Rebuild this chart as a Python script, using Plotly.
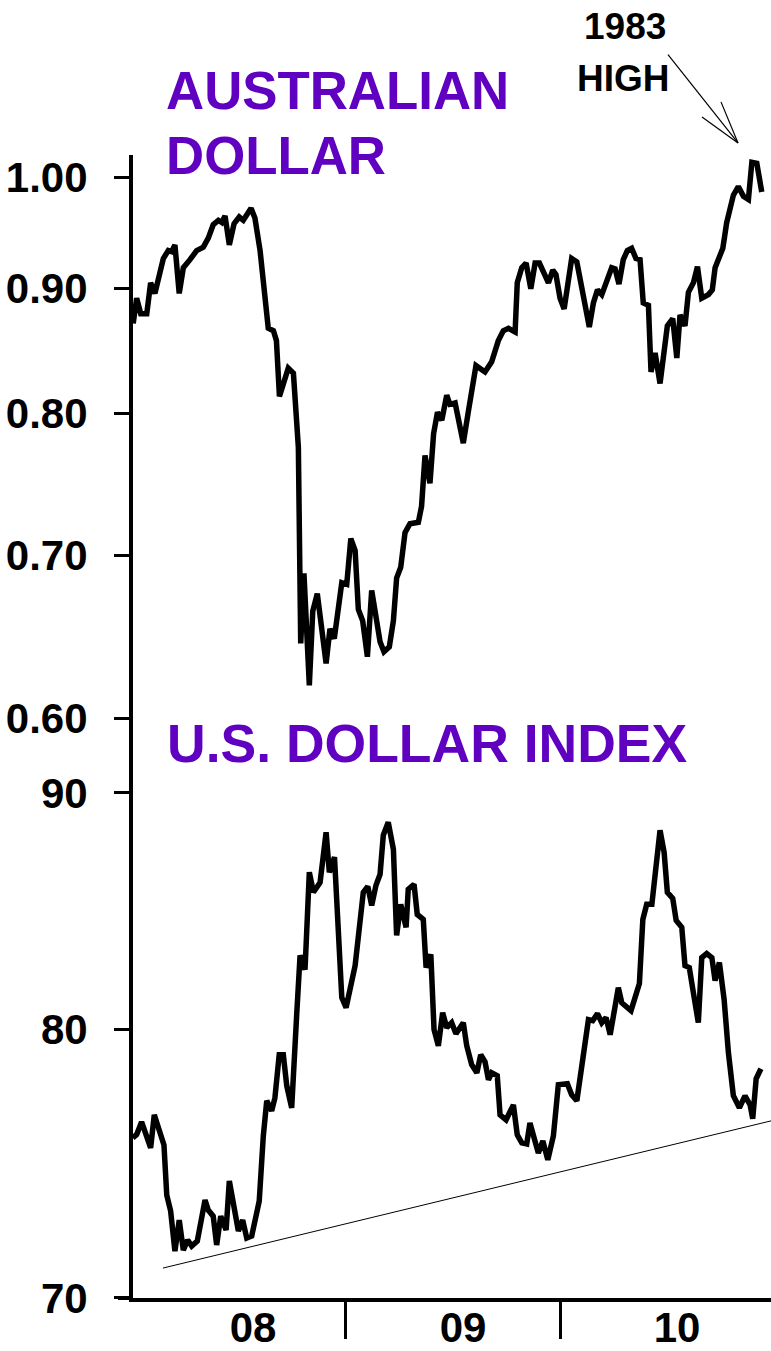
import math
import plotly.graph_objects as go

# Australian dollar (US$ per A$), weekly, Jan 2008 - Nov 2010
aud_t = [2008.015, 2008.031, 2008.050, 2008.078, 2008.096, 2008.116, 2008.155, 2008.178, 2008.194, 2008.209,
         2008.229, 2008.248, 2008.279, 2008.310, 2008.341, 2008.364, 2008.387, 2008.411, 2008.427, 2008.442,
         2008.462, 2008.484, 2008.508, 2008.527, 2008.563, 2008.581, 2008.605, 2008.628, 2008.643, 2008.667,
         2008.681, 2008.695, 2008.736, 2008.760, 2008.783, 2008.794, 2008.809, 2008.834, 2008.850, 2008.871,
         2008.892, 2008.912, 2008.930, 2008.950, 2008.985, 2009.008, 2009.027, 2009.047, 2009.062, 2009.082,
         2009.104, 2009.124, 2009.147, 2009.163, 2009.181, 2009.206, 2009.225, 2009.240, 2009.259, 2009.279,
         2009.302, 2009.341, 2009.356, 2009.372, 2009.395, 2009.412, 2009.430, 2009.450, 2009.473, 2009.488,
         2009.512, 2009.550, 2009.574, 2009.609, 2009.651, 2009.682, 2009.713, 2009.736, 2009.760, 2009.791,
         2009.801, 2009.822, 2009.842, 2009.864, 2009.884, 2009.904, 2009.946, 2009.966, 2009.981, 2010.000,
         2010.019, 2010.054, 2010.078, 2010.136, 2010.155, 2010.174, 2010.194, 2010.220, 2010.240, 2010.256,
         2010.274, 2010.294, 2010.313, 2010.333, 2010.353, 2010.372, 2010.387, 2010.411, 2010.423, 2010.442,
         2010.465, 2010.499, 2010.524, 2010.543, 2010.558, 2010.581, 2010.597, 2010.620, 2010.639, 2010.659,
         2010.690, 2010.708, 2010.721, 2010.757, 2010.775, 2010.806, 2010.829, 2010.853, 2010.876, 2010.892,
         2010.915, 2010.938]
aud_v = [0.871, 0.892, 0.879, 0.879, 0.905, 0.896, 0.926, 0.933, 0.932, 0.938,
         0.896, 0.918, 0.925, 0.933, 0.936, 0.944, 0.956, 0.960, 0.958, 0.964,
         0.938, 0.957, 0.963, 0.960, 0.971, 0.962, 0.933, 0.893, 0.867, 0.865,
         0.857, 0.813, 0.835, 0.831, 0.775, 0.644, 0.688, 0.619, 0.664, 0.675,
         0.650, 0.632, 0.653, 0.647, 0.682, 0.681, 0.711, 0.703, 0.665, 0.658,
         0.636, 0.677, 0.658, 0.645, 0.639, 0.642, 0.658, 0.685, 0.692, 0.715,
         0.721, 0.722, 0.733, 0.769, 0.749, 0.785, 0.801, 0.795, 0.814, 0.807,
         0.808, 0.778, 0.802, 0.837, 0.832, 0.840, 0.857, 0.865, 0.867, 0.864,
         0.905, 0.918, 0.922, 0.900, 0.922, 0.922, 0.905, 0.916, 0.912, 0.892,
         0.883, 0.926, 0.923, 0.868, 0.888, 0.899, 0.895, 0.910, 0.918, 0.917,
         0.904, 0.925, 0.933, 0.935, 0.926, 0.925, 0.888, 0.886, 0.832, 0.847,
         0.823, 0.869, 0.875, 0.843, 0.878, 0.869, 0.897, 0.905, 0.919, 0.892,
         0.895, 0.899, 0.918, 0.935, 0.958, 0.983, 0.991, 0.982, 0.979, 1.014,
         1.013, 0.986]

# U.S. Dollar Index, weekly, Jan 2008 - Nov 2010
dxy_t = [2008.013, 2008.031, 2008.054, 2008.078, 2008.096, 2008.113, 2008.140, 2008.158, 2008.171, 2008.189,
         2008.209, 2008.229, 2008.248, 2008.268, 2008.287, 2008.313, 2008.349, 2008.364, 2008.387, 2008.403,
         2008.422, 2008.447, 2008.462, 2008.504, 2008.524, 2008.543, 2008.566, 2008.601, 2008.620, 2008.636,
         2008.659, 2008.674, 2008.694, 2008.713, 2008.729, 2008.752, 2008.775, 2008.791, 2008.814, 2008.834,
         2008.853, 2008.884, 2008.912, 2008.927, 2008.951, 2008.985, 2009.005, 2009.047, 2009.085, 2009.106,
         2009.124, 2009.144, 2009.163, 2009.178, 2009.201, 2009.225, 2009.240, 2009.259, 2009.284, 2009.294,
         2009.321, 2009.336, 2009.364, 2009.377, 2009.399, 2009.414, 2009.434, 2009.454, 2009.473, 2009.496,
         2009.516, 2009.550, 2009.566, 2009.589, 2009.613, 2009.631, 2009.651, 2009.667, 2009.682, 2009.708,
         2009.721, 2009.749, 2009.783, 2009.801, 2009.822, 2009.845, 2009.860, 2009.880, 2009.899, 2009.920,
         2009.943, 2009.969, 2009.992, 2010.034, 2010.054, 2010.078, 2010.106, 2010.132, 2010.152, 2010.174,
         2010.194, 2010.214, 2010.233, 2010.271, 2010.287, 2010.330, 2010.369, 2010.385, 2010.403, 2010.427,
         2010.465, 2010.484, 2010.499, 2010.524, 2010.540, 2010.566, 2010.581, 2010.601, 2010.620, 2010.643,
         2010.659, 2010.682, 2010.706, 2010.721, 2010.741, 2010.763, 2010.783, 2010.806, 2010.834, 2010.860,
         2010.884, 2010.896, 2010.912, 2010.934]
dxy_v = [75.81, 75.93, 76.41, 75.88, 75.43, 76.68, 75.99, 75.54, 73.68, 73.10,
         71.65, 72.77, 71.69, 72.05, 71.83, 72.01, 73.50, 73.13, 72.91, 71.87,
         72.91, 72.41, 74.20, 72.37, 72.77, 72.12, 72.19, 73.46, 75.88, 77.22,
         76.83, 77.33, 79.01, 79.01, 77.80, 76.95, 80.56, 83.01, 82.43, 86.52,
         85.66, 86.08, 88.26, 86.52, 87.17, 81.29, 80.88, 82.59, 85.66, 85.91,
         85.10, 85.96, 86.43, 88.13, 88.70, 87.51, 83.84, 85.15, 84.18, 85.79,
         86.00, 84.72, 84.51, 82.51, 83.05, 80.00, 79.36, 80.68, 80.08, 80.28,
         79.84, 80.28, 79.36, 78.62, 78.30, 79.01, 78.73, 78.03, 78.30, 78.19,
         76.68, 76.49, 77.06, 75.92, 75.62, 75.58, 76.37, 75.73, 75.24, 75.69,
         74.98, 75.88, 77.84, 77.88, 77.45, 77.22, 78.97, 80.40, 80.36, 80.64,
         80.28, 80.48, 79.80, 81.69, 81.08, 80.76, 81.86, 84.51, 85.15, 85.15,
         88.35, 87.38, 85.66, 85.40, 84.47, 84.18, 82.59, 82.51, 81.49, 80.28,
         82.92, 83.09, 82.92, 81.98, 82.72, 81.21, 79.09, 77.41, 76.95, 77.41,
         77.06, 76.53, 78.07, 78.46]

# rising support line under the dollar index lows
trend_t = [2008.153, 2010.981]
trend_v = [71.05, 76.45]

aud_ticks = [0.60, 0.70, 0.80, 0.90, 1.00]
dxy_ticks = [70, 80, 90]
year_labels = ["08", "09", "10"]
year_label_pos = [2008.572, 2009.549, 2010.544]
year_breaks = [2009, 2010]

W, H = 771, 1351
ML, MR, MT, MB = 133, 0, 155, 49
PW, PH = W - ML - MR, H - MT - MB
SPLIT = 1 - (717 - MT) / (1295 - MT)
X_RANGE = [2008.014, 2010.981]

FONT = "Liberation Sans, Arial, Helvetica, sans-serif"
PURPLE = "#6000c0"


def px_x(px):
    return (px - ML) / PW


def px_y(py):
    # measured from the top edge of the plotting area
    return 1 + (MT - py) / (1295 - MT)


fig = go.Figure()
fig.add_trace(go.Scatter(x=aud_t, y=aud_v, mode="lines", xaxis="x", yaxis="y",
                         line=dict(color="black", width=5.5), hoverinfo="skip"))
fig.add_trace(go.Scatter(x=dxy_t, y=dxy_v, mode="lines", xaxis="x2", yaxis="y2",
                         line=dict(color="black", width=5.5), hoverinfo="skip"))
fig.add_trace(go.Scatter(x=trend_t, y=trend_v, mode="lines", xaxis="x2", yaxis="y2",
                         line=dict(color="black", width=1), hoverinfo="skip"))

tickfont = dict(family=FONT, size=42, color="black", weight="bold")
yax_common = dict(type="log", showgrid=False, zeroline=False, showline=True,
                  linecolor="black", linewidth=4, ticks="outside", ticklen=15,
                  tickwidth=3, tickcolor="black", tickfont=tickfont,
                  ticklabelstandoff=18, fixedrange=True)

fig.update_layout(
    width=W, height=H,
    margin=dict(l=ML, r=MR, t=MT, b=MB),
    paper_bgcolor="white", plot_bgcolor="white",
    showlegend=False,
    xaxis=dict(domain=[0, 1], anchor="y", range=X_RANGE, visible=False, fixedrange=True),
    yaxis=dict(domain=[SPLIT, 1], anchor="x",
               range=[math.log10(0.60), math.log10(1.021)],
               tickvals=aud_ticks, ticktext=[f"{v:.2f}" for v in aud_ticks], **yax_common),
    xaxis2=dict(domain=[0, 1], anchor="y2", range=X_RANGE, showgrid=False, zeroline=False,
                showline=True, linecolor="black", linewidth=4,
                tickvals=year_label_pos, ticktext=year_labels, ticks="",
                tickfont=tickfont, ticklabelstandoff=-10, fixedrange=True,
                minor=dict(tickvals=year_breaks, ticks="outside", ticklen=37,
                           tickwidth=3, tickcolor="black", showgrid=False)),
    yaxis2=dict(domain=[0, SPLIT], anchor="x2",
                range=[math.log10(70), math.log10(93.4)],
                tickvals=dxy_ticks, ticktext=[str(v) for v in dxy_ticks], **yax_common),
)

# bottom axis line runs a little past the vertical axis
fig.add_shape(type="line", xref="paper", yref="paper",
              x0=px_x(118), x1=0, y0=0, y1=0, line=dict(color="black", width=4))

# panel titles
for text, xpx, ypx, size in [("AUSTRALIAN", 164, 91, 52.8), ("DOLLAR", 164, 155, 52.8),
                             ("U.S. DOLLAR INDEX", 165, 742, 53.5)]:
    fig.add_annotation(text=text, xref="paper", yref="paper", x=px_x(xpx), y=px_y(ypx),
                       xanchor="left", yanchor="middle", showarrow=False,
                       font=dict(family=FONT, size=size, color=PURPLE, weight="bold"))

# "1983 HIGH" callout with an open arrow head
note_font = dict(family=FONT, size=37, color="black", weight="bold")
for text, xpx, ypx in [("1983", 625, 27), ("HIGH", 623, 79)]:
    fig.add_annotation(text=text, xref="paper", yref="paper", x=px_x(xpx), y=px_y(ypx),
                       xanchor="center", yanchor="middle", showarrow=False, font=note_font)

tip = (738, 143)
for start in [(668, 55), (702, 117), (721, 102)]:
    fig.add_shape(type="line", xref="paper", yref="paper",
                  x0=px_x(start[0]), y0=px_y(start[1]), x1=px_x(tip[0]), y1=px_y(tip[1]),
                  line=dict(color="black", width=1.2))

fig.write_html("out.html")
